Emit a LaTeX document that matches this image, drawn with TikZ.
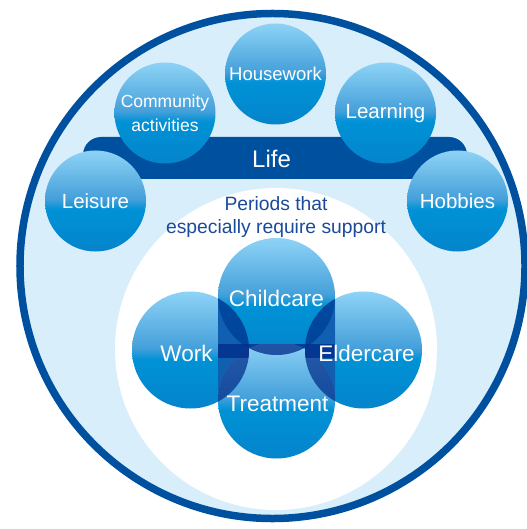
\documentclass[tikz,border=0pt]{standalone}
\usepackage{fontspec}
\setmainfont{Liberation Sans}
\definecolor{ringblue}{HTML}{0050A0}
\definecolor{skyfill}{HTML}{D8EEFB}
\definecolor{labelblue}{HTML}{1B4A9B}
\definecolor{balltop}{HTML}{8ED3F6}
\definecolor{ballmid}{HTML}{45A0DA}
\definecolor{ballbright}{HTML}{0092D6}
\definecolor{ballbot}{HTML}{0484CB}
\definecolor{stripblue}{HTML}{1B7CC8}
\definecolor{overlap}{HTML}{002A88}
\pgfdeclareverticalshading{ball}{100bp}{color(0bp)=(ballbot); color(25bp)=(ballbot); color(46bp)=(ballbright); color(51bp)=(ballmid); color(75bp)=(balltop); color(100bp)=(balltop)}
\begin{document}
\begin{tikzpicture}[x=1bp, y=-1bp,
  ball/.style={circle, shading=ball, minimum size=101bp, inner sep=0pt, text=white, align=center},
  bigtext/.style={font=\fontsize{20.5bp}{24bp}\selectfont},
  tag/.style={text=white, font=\fontsize{22.5bp}{24bp}\selectfont}]
  \useasboundingbox (0,0) rectangle (527,529);
  \draw[ringblue, line width=7.5bp, fill=skyfill] (272.5,266) circle[radius=252.5bp];
  \fill[white] (276,349) circle[radius=161bp];
  % life bar and its circles
  \fill[ringblue, rounded corners=18bp] (83,137) rectangle (467,179);
  \node[text=white, font=\fontsize{24bp}{24bp}\selectfont] (life) at (271.5,159) {Life};
  \node[ball, font=\fontsize{18.5bp}{20bp}\selectfont] (housework) at (275.5,74) {Housework};
  \node[ball, font=\fontsize{17.5bp}{24bp}\selectfont] (community) at (165,113) {Community\\activities};
  \node[ball, bigtext] (learning) at (385.5,113) {Learning};
  \node[ball, bigtext] (leisure) at (95.5,201) {Leisure};
  \node[ball, bigtext] (hobbies) at (457.5,201) {Hobbies};
  \node[text=labelblue, align=center, font=\fontsize{19.3bp}{23bp}\selectfont] (periods) at (276,217) {Periods that\\especially require support};
  % periods that need support
  \coordinate (work) at (190.5,350);
  \coordinate (elder) at (363.5,350);
  \coordinate (child) at (276.5,296.5);
  \coordinate (treat) at (276.5,400);
  \shade[shading=ball] (work) circle[radius=58.5bp];
  \shade[shading=ball] (elder) circle[radius=58.5bp];
  \fill[stripblue] (218,296.5) rectangle (335,400);
  \shade[shading=ball] (child) circle[radius=58.5bp];
  \begin{scope}
    \clip (0,344) rectangle (527,529);
    \shade[shading=ball] (treat) circle[radius=58.5bp];
  \end{scope}
  \begin{scope}
    \clip (218,296.5) rectangle (335,400);
    \fill[overlap, opacity=.35] (work) circle[radius=58.5bp] (elder) circle[radius=58.5bp];
  \end{scope}
  \begin{scope}
    \clip (work) circle[radius=58.5bp];
    \fill[overlap, opacity=.55] (child) circle[radius=58.5bp] (treat) circle[radius=58.5bp];
  \end{scope}
  \begin{scope}
    \clip (elder) circle[radius=58.5bp];
    \fill[overlap, opacity=.55] (child) circle[radius=58.5bp] (treat) circle[radius=58.5bp];
  \end{scope}
  \begin{scope}
    \clip (218,344) rectangle (335,357);
    \fill[overlap, opacity=.75] (child) circle[radius=58.5bp] (work) circle[radius=58.5bp] (elder) circle[radius=58.5bp];
  \end{scope}
  \node[tag] (childcare) at (276.5,298) {Childcare};
  \node[tag] (worktext) at (186.5,353) {Work};
  \node[tag] (eldercare) at (366.5,353) {Eldercare};
  \node[tag] (treatment) at (277.5,404) {Treatment};
\end{tikzpicture}
\end{document}
